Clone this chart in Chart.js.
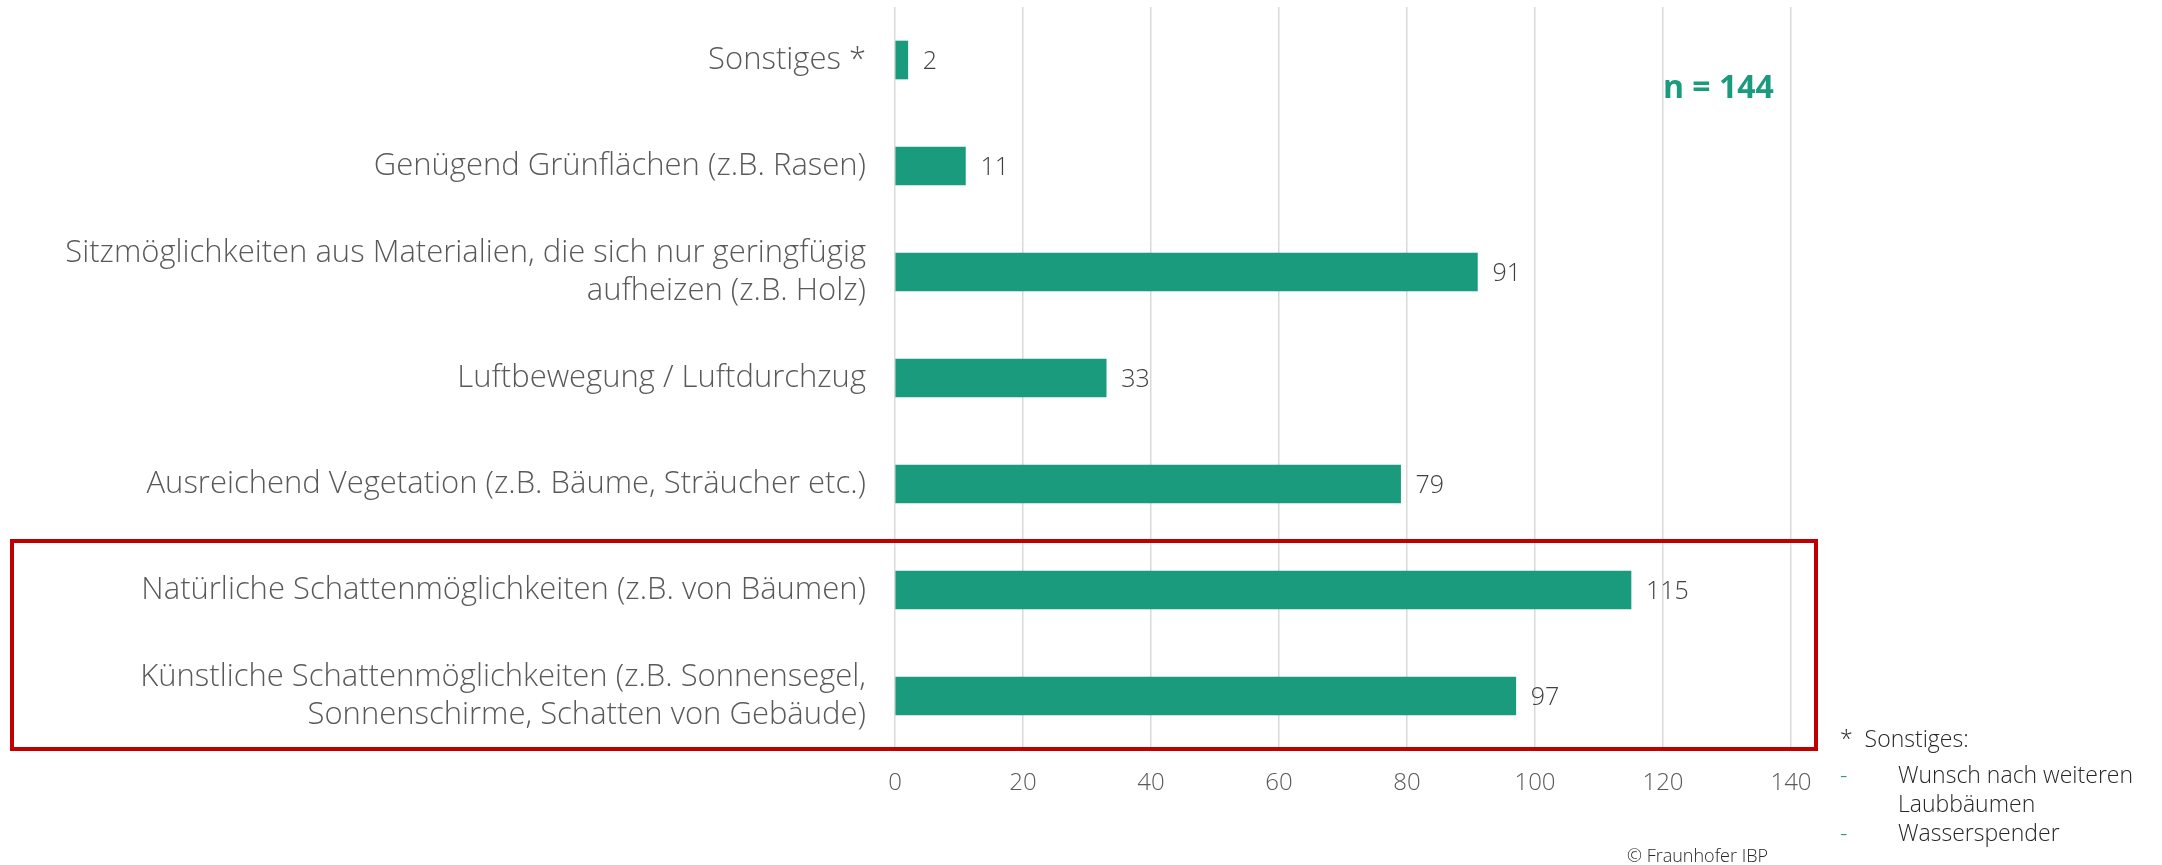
<!DOCTYPE html>
<html>

<head>
    <title>Schattenmöglichkeiten</title>
    <meta charset="utf-8">
    <script src="https://cdn.jsdelivr.net/npm/chart.js"></script>
    <style type="text/css">
        body {
            margin: 0;
            background: white;
            font-family: "Open Sans", sans-serif;
        }

        #wrap {
            position: relative;
            width: 2162px;
            height: 865px;
        }

        .redbox {
            position: absolute;
            left: 10px;
            top: 539px;
            width: 1800px;
            height: 204px;
            border: 4px solid #c00000;
        }

        .nlabel {
            position: absolute;
            left: 1663px;
            top: 64px;
            font-size: 32px;
            font-weight: bold;
            color: #1a9b7d;
        }

        .note {
            position: absolute;
            left: 1840px;
            top: 724px;
            font-size: 23px;
            font-weight: 300;
            color: #262626;
            line-height: 29px;
        }

        .note .first {
            margin-bottom: 7px;
        }

        .note .dash {
            display: inline-block;
            width: 58px;
            color: #1a9b7d;
        }

        .note .ind {
            padding-left: 58px;
        }

        .copy {
            position: absolute;
            left: 1627px;
            top: 843px;
            font-size: 18px;
            font-weight: 300;
            color: #262626;
        }
    </style>
</head>

<body>
    <div id="wrap">
        <canvas id="myChart"></canvas>
        <div class="redbox"></div>
        <div class="nlabel">n = 144</div>
        <div class="note">
            <div class="first">*&nbsp; Sonstiges:</div>
            <div><span class="dash">-</span>Wunsch nach weiteren</div>
            <div class="ind">Laubbäumen</div>
            <div><span class="dash">-</span>Wasserspender</div>
        </div>
        <div class="copy">© Fraunhofer IBP</div>
    </div>

    <script>
        const categories = [
            'Sonstiges *',
            'Genügend Grünflächen (z.B. Rasen)',
            ['Sitzmöglichkeiten aus Materialien, die sich nur geringfügig', 'aufheizen (z.B. Holz)'],
            'Luftbewegung / Luftdurchzug',
            'Ausreichend Vegetation (z.B. Bäume, Sträucher etc.)',
            'Natürliche Schattenmöglichkeiten (z.B. von Bäumen)',
            ['Künstliche Schattenmöglichkeiten (z.B. Sonnensegel,', 'Sonnenschirme, Schatten von Gebäude)']
        ];
        const counts = [2, 11, 91, 33, 79, 115, 97];
        const xTicks = [0, 20, 40, 60, 80, 100, 120, 140];

        // Zahlen rechts neben den Balken
        const valueLabels = {
            id: 'valueLabels',
            afterDatasetsDraw(chart) {
                const ctx = chart.ctx;
                const meta = chart.getDatasetMeta(0);
                ctx.save();
                ctx.font = '300 25px "Open Sans"';
                ctx.fillStyle = '#404040';
                ctx.textBaseline = 'middle';
                ctx.textAlign = 'left';
                meta.data.forEach(function (bar, i) {
                    ctx.fillText(counts[i], bar.x + 15, bar.y + 2);
                });
                ctx.restore();
            }
        };

        var ctx = document.getElementById('myChart').getContext('2d');
        var myChart = new Chart(ctx, {
            type: 'bar',
            data: {
                labels: categories,
                datasets: [{
                    data: counts,
                    backgroundColor: '#1a9b7d',
                    barThickness: 38
                }]
            },
            plugins: [valueLabels],
            options: {
                indexAxis: 'y',
                responsive: true,
                maintainAspectRatio: false,
                animation: false,
                layout: {
                    padding: { top: 7, right: 371, left: 0, bottom: 0 }
                },
                plugins: {
                    legend: { display: false },
                    tooltip: { enabled: false }
                },
                scales: {
                    x: {
                        min: 0,
                        max: 140,
                        afterBuildTicks: function (scale) {
                            scale.ticks = xTicks.map(v => ({ value: v }));
                        },
                        afterFit: function (scale) {
                            scale.height = 116;
                            scale.paddingLeft = 0;
                            scale.paddingRight = 0;
                        },
                        grid: {
                            color: '#d9d9d9',
                            lineWidth: 1.5,
                            drawTicks: false
                        },
                        border: { display: false },
                        ticks: {
                            padding: 20,
                            color: '#595959',
                            font: { family: 'Open Sans', size: 24, weight: 300 }
                        }
                    },
                    y: {
                        afterFit: function (scale) {
                            scale.width = 895;
                            scale.paddingTop = 0;
                            scale.paddingBottom = 0;
                        },
                        grid: { display: false, drawTicks: false },
                        border: { display: false },
                        ticks: {
                            padding: 29,
                            color: '#595959',
                            font: { family: 'Open Sans', size: 31, weight: 300, lineHeight: 1.22 }
                        }
                    }
                }
            }
        });
    </script>
</body>

</html>
